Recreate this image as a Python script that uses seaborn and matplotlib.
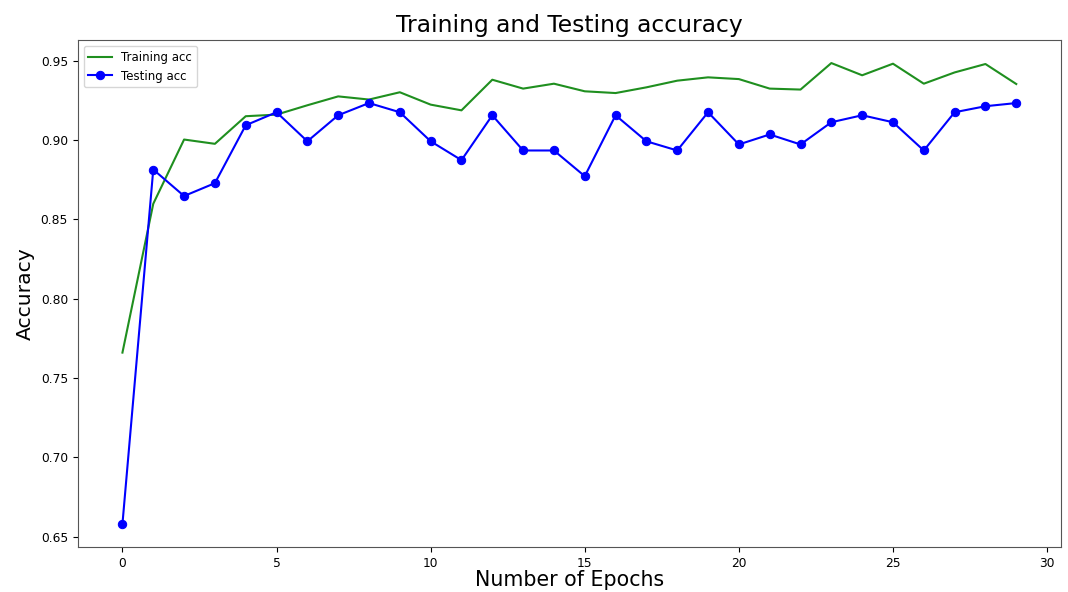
import matplotlib
matplotlib.use("Agg")
import matplotlib.pyplot as plt
import seaborn as sns
import pandas as pd
import numpy as np

epochs = list(range(30))
train_acc = [0.766, 0.8598, 0.9003, 0.8976, 0.9150, 0.9160, 0.9219, 0.9275, 0.9255, 0.9301,
             0.9223, 0.9187, 0.9380, 0.9324, 0.9355, 0.9307, 0.9296, 0.9332, 0.9374, 0.9395,
             0.9384, 0.9324, 0.9318, 0.9485, 0.9408, 0.9481, 0.9355, 0.9426, 0.9479, 0.9353]
test_acc = [0.658, 0.8814, 0.8647, 0.8728, 0.9093, 0.9175, 0.8992, 0.9156, 0.9233, 0.9175,
            0.8992, 0.8873, 0.9156, 0.8934, 0.8934, 0.8772, 0.9156, 0.8992, 0.8934, 0.9175,
            0.8972, 0.9035, 0.8972, 0.9112, 0.9156, 0.9112, 0.8934, 0.9175, 0.9213, 0.9233]

df = pd.DataFrame({"epoch": epochs, "train": train_acc, "test": test_acc})

fig = plt.figure(figsize=(10.68, 5.92), dpi=100)
ax = fig.add_axes([0.0728, 0.076, 0.9206, 0.8564])

sns.lineplot(data=df, x="epoch", y="train", ax=ax, color="#1f8f1f", linewidth=1.5,
             label="Training acc")
sns.lineplot(data=df, x="epoch", y="test", ax=ax, color="b", linewidth=1.5,
             marker="o", markersize=6, markeredgecolor="b", label="Testing acc")

ax.set_title("Training and Testing accuracy", fontsize=16.8)
ax.set_xlabel("Number of Epochs", fontsize=14.8, labelpad=0)
ax.set_ylabel("Accuracy", fontsize=14.6)
ax.set_xticks([0, 5, 10, 15, 20, 25, 30])
ax.set_yticks([0.65, 0.70, 0.75, 0.80, 0.85, 0.90, 0.95])
ax.tick_params(labelsize=8.8)
for s in ax.spines.values():
    s.set_color("#555555")
ax.legend(loc="upper left", fontsize=8.5)

fig.savefig("out.png", dpi=100)
